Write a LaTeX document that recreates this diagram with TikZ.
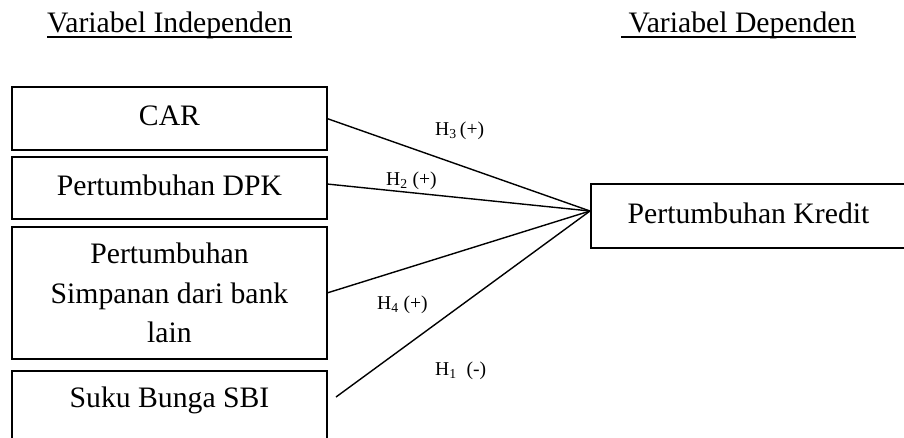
\documentclass[tikz,border=0pt]{standalone}
\usepackage{fontspec}
\setmainfont{Liberation Serif}
\usetikzlibrary{calc}
\begin{document}
\begin{tikzpicture}[x=1pt,y=-1pt,
  varbox/.style={draw, line width=1.6pt, minimum width=315pt, inner sep=0pt,
    outer sep=0pt, align=center, font=\fontsize{29.7}{39.5}\selectfont},
  oneline/.style={text height=20.7pt, text depth=6.2pt},
  header/.style={font=\fontsize{29.7}{36}\selectfont, inner sep=0pt, anchor=base west},
  hlabel/.style={font=\fontsize{19.6}{24}\selectfont, inner sep=0pt, anchor=base west},
  link/.style={line width=1.4pt},
  uline/.style={line width=1.4pt}]
  \useasboundingbox (0,0) rectangle (904,437);
  \clip (0,0) rectangle (904,437);

  % column headings
  \node[header] (indep) at (47,32) {Variabel Independen};
  \node[header] (dep) at (621,32) {\hspace*{.25em}Variabel Dependen};
  \draw[uline] ($(indep.base west)+(0,5)$) -- ($(indep.base east)+(0,5)$);
  \draw[uline] ($(dep.base west)+(0,5)$) -- ($(dep.base east)+(0,5)$);

  % independent variables
  \node[varbox, oneline, minimum height=63pt] (car) at (169.5,118.5) {CAR};
  \node[varbox, oneline, minimum height=62pt] (dpk) at (169.5,188) {Pertumbuhan DPK};
  \node[varbox, minimum height=132pt] (sim) at (169.5,293)
    {Pertumbuhan\\Simpanan dari bank\\lain};
  \node[varbox, anchor=north, text height=20.7pt, text depth=40pt, inner ysep=15.3pt]
    (sbi) at (169.5,371) {Suku Bunga SBI};

  % dependent variable
  \node[varbox, oneline, minimum height=64pt] (kredit) at (748.5,216) {Pertumbuhan Kredit};

  % connectors
  \coordinate (hub) at ($(kredit.west)+(-1,-5)$);
  \coordinate (sbiend) at ($(sbi.north east)+(9,26)$);
  \draw[link] (car.east) -- (hub);
  \draw[link] ($(dpk.east)+(0,-4)$) -- (hub);
  \draw[link] (sim.east) -- (hub);
  \draw[link] (sbiend) -- (hub);

  % hypothesis labels
  \node[hlabel] (h3) at (435,135) {H\textsubscript{3}\,(+)};
  \node[hlabel] (h2) at (386,185) {H\textsubscript{2} (+)};
  \node[hlabel] (h4) at (377,309) {H\textsubscript{4} (+)};
  \node[hlabel] (h1) at (435,375) {H\textsubscript{1}\ \ (-)};
\end{tikzpicture}
\end{document}
